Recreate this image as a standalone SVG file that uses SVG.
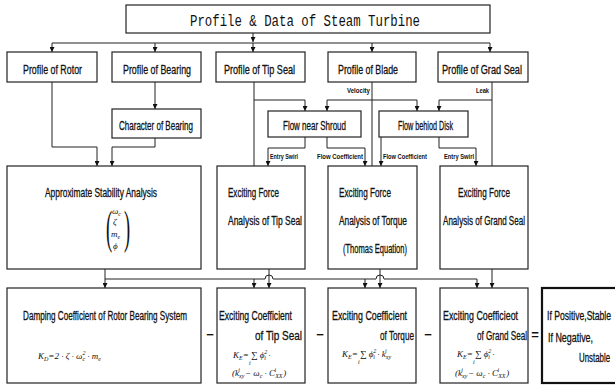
<svg xmlns="http://www.w3.org/2000/svg" width="615" height="386" viewBox="0 0 615 386">
<defs>
<marker id="ah" viewBox="0 0 8 8" refX="8" refY="4" markerWidth="5" markerHeight="5" orient="auto" markerUnits="userSpaceOnUse"><path d="M0,0 L8,4 L0,8 z" fill="#111"/></marker>
<style>
.box{fill:#fff;stroke:#222;stroke-width:1.2}
.thick{fill:#fff;stroke:#111;stroke-width:2.2}
.t{font-family:"Liberation Sans",Arial,sans-serif;font-size:12.5px;fill:#111;stroke:#111;stroke-width:0.3}
.mono{font-family:"Liberation Mono","Courier New",monospace;font-size:16px;fill:#111}
.s{font-family:"Liberation Sans",Arial,sans-serif;font-size:7px;font-weight:bold;fill:#111}
.f{font-family:"Liberation Serif","Times New Roman",serif;font-size:9px;font-style:italic;fill:#111}
.fs{font-size:6px}
.p{font-family:"Liberation Serif","Times New Roman",serif;font-size:46px;fill:#111}
.c{fill:none;stroke:#222;stroke-width:1}
.a{marker-end:url(#ah)}
.op{font-family:"Liberation Sans",Arial,sans-serif;font-size:13px;font-weight:bold;fill:#111}
</style>
</defs>
<rect width="615" height="386" fill="#fff"/>

<g id="connectors">
<path class="c a" d="M253,33 V42"/>
<path class="c" d="M52,43 H490"/>
<path class="c a" d="M52,43 V52"/>
<path class="c a" d="M155,43 V52"/>
<path class="c a" d="M253,43 V52"/>
<path class="c a" d="M372,43 V52"/>
<path class="c a" d="M490,43 V52"/>
<path class="c a" d="M155,82 V109"/>
<path class="c a" d="M52,82 V147 H97 V166"/>
<path class="c a" d="M155,138 V147 H112 V166"/>
<path class="c" d="M254,82 V166"/>
<path class="c a" d="M254,100 H305 V111"/>
<path class="c" d="M372,82 V166"/>
<path class="c a" d="M372,100 H327 V111"/>
<path class="c a" d="M372,100 H417 V111"/>
<path class="c" d="M492,82 V166"/>
<path class="c a" d="M492,100 H439 V111"/>
<path class="c a" d="M305,137 V148 H268 V166"/>
<path class="c a" d="M327,137 V148 H365 V166"/>
<path class="c a" d="M381,137 V166"/>
<path class="c a" d="M439,137 V148 H476 V166"/>
<path class="c a" d="M105,269 V279 H265 A4,4 0 0 1 273,279 H376 A4,4 0 0 1 384,279 H477 V288"/>
<path class="c a" d="M105,279 V288"/>
<path class="c a" d="M254,279 V288"/>
<path class="c a" d="M365,279 V288"/>
<path class="c a" d="M269,269 V288"/>
<path class="c a" d="M380,269 V288"/>
<path class="c a" d="M492,269 V288"/>
<text class="s" x="347" y="93" textLength="23" lengthAdjust="spacingAndGlyphs">Velocity</text>
<text class="s" x="476" y="93" textLength="13" lengthAdjust="spacingAndGlyphs">Leak</text>
<text class="s" x="270" y="159" textLength="28" lengthAdjust="spacingAndGlyphs">Entry Swirl</text>
<text class="s" x="317" y="159" textLength="46" lengthAdjust="spacingAndGlyphs">Flow Coefficient</text>
<text class="s" x="383" y="159" textLength="44" lengthAdjust="spacingAndGlyphs">Flow Coefficient</text>
<text class="s" x="444" y="159" textLength="30" lengthAdjust="spacingAndGlyphs">Entry Swirl</text>
</g>

<g id="title">
<rect class="box" x="126" y="5" width="364" height="28"/>
<text class="mono" x="190" y="26" textLength="230" lengthAdjust="spacingAndGlyphs">Profile &amp; Data of Steam Turbine</text>
</g>

<g id="profile-rotor">
<rect class="box" x="7" y="52" width="90" height="30"/>
<text class="t" x="23" y="74" textLength="59" lengthAdjust="spacingAndGlyphs">Profile of Rotor</text>
</g>
<g id="profile-bearing">
<rect class="box" x="112" y="52" width="89" height="30"/>
<text class="t" x="123" y="74" textLength="68" lengthAdjust="spacingAndGlyphs">Profile of Bearing</text>
</g>
<g id="profile-tip-seal">
<rect class="box" x="216" y="52" width="89" height="30"/>
<text class="t" x="224" y="74" textLength="71" lengthAdjust="spacingAndGlyphs">Profile of Tip Seal</text>
</g>
<g id="profile-blade">
<rect class="box" x="328" y="52" width="88" height="30"/>
<text class="t" x="338" y="74" textLength="60" lengthAdjust="spacingAndGlyphs">Profile of Blade</text>
</g>
<g id="profile-grad-seal">
<rect class="box" x="438" y="52" width="90" height="30"/>
<text class="t" x="442" y="74" textLength="80" lengthAdjust="spacingAndGlyphs">Profile of Grad Seal</text>
</g>

<g id="character-bearing">
<rect class="box" x="112" y="109" width="89" height="29"/>
<text class="t" x="119" y="130" textLength="74" lengthAdjust="spacingAndGlyphs">Character of Bearing</text>
</g>
<g id="flow-shroud">
<rect class="box" x="268" y="111" width="93" height="26"/>
<text class="t" x="283" y="130" textLength="63" lengthAdjust="spacingAndGlyphs">Flow near Shroud</text>
</g>
<g id="flow-disk">
<rect class="box" x="379" y="111" width="89" height="26"/>
<text class="t" x="398" y="130" textLength="55" lengthAdjust="spacingAndGlyphs">Flow behiod Disk</text>
</g>

<g id="stability-analysis">
<rect class="box" x="7" y="166" width="194" height="103"/>
<text class="t" x="45" y="197" textLength="112" lengthAdjust="spacingAndGlyphs">Approximate Stability Analysis</text>
<text class="p" x="0" y="0" transform="translate(106,243) scale(0.4,1)">(</text>
<text class="p" x="0" y="0" transform="translate(124,243) scale(0.4,1)">)</text>
<text class="f" x="112" y="214">ω<tspan class="fs" dy="2">c</tspan></text>
<text class="f" x="113" y="225">ζ</text>
<text class="f" x="111" y="237">m<tspan class="fs" dy="2">e</tspan></text>
<text class="f" x="113" y="249">ϕ</text>
</g>
<g id="force-tip-seal">
<rect class="box" x="217" y="166" width="88" height="103"/>
<text class="t" x="228" y="197" textLength="51" lengthAdjust="spacingAndGlyphs">Exciting Force</text>
<text class="t" x="228" y="225" textLength="74" lengthAdjust="spacingAndGlyphs">Analysis of Tip Seal</text>
</g>
<g id="force-torque">
<rect class="box" x="328" y="166" width="89" height="103"/>
<text class="t" x="339" y="197" textLength="52" lengthAdjust="spacingAndGlyphs">Exciting Force</text>
<text class="t" x="339" y="225" textLength="68" lengthAdjust="spacingAndGlyphs">Analysis of Torque</text>
<text class="t" x="343" y="253" textLength="64" lengthAdjust="spacingAndGlyphs">(Thomas Equation)</text>
</g>
<g id="force-grand-seal">
<rect class="box" x="440" y="166" width="88" height="103"/>
<text class="t" x="458" y="197" textLength="52" lengthAdjust="spacingAndGlyphs">Exciting Force</text>
<text class="t" x="443" y="225" textLength="82" lengthAdjust="spacingAndGlyphs">Analysis of Grand Seal</text>
</g>

<g id="damping-coefficient">
<rect class="box" x="7" y="288" width="194" height="95"/>
<text class="t" x="23" y="320" textLength="164" lengthAdjust="spacingAndGlyphs">Damping Coefficient of Rotor Bearing System</text>
<text class="f" x="38" y="359">K<tspan class="fs" dy="2">D</tspan><tspan dy="-2">=2 · ζ · ω</tspan><tspan class="fs" dy="-4">2</tspan><tspan class="fs" dx="-3" dy="6">c</tspan><tspan dy="-2"> · m</tspan><tspan class="fs" dy="2">e</tspan></text>
</g>
<g id="coef-tip-seal">
<rect class="box" x="217" y="288" width="88" height="95"/>
<text class="t" x="219" y="320" textLength="73" lengthAdjust="spacingAndGlyphs">Exciting Coefficient</text>
<text class="t" x="255" y="340" textLength="47" lengthAdjust="spacingAndGlyphs">of Tip Seal</text>
<text class="f" x="233" y="358">K<tspan class="fs" dy="2">E</tspan><tspan dy="-2">= ∑ ϕ</tspan><tspan class="fs" dy="-4">2</tspan><tspan class="fs" dx="-3" dy="6">i</tspan><tspan dy="-2"> ·</tspan></text>
<text class="f fs" x="249" y="365">i</text>
<text class="f" x="232" y="376">(k<tspan class="fs" dy="2">xy</tspan><tspan class="fs" dx="-6" dy="-6">i</tspan><tspan dx="5" dy="4">− ω</tspan><tspan class="fs" dy="2">c</tspan><tspan dy="-2"> · C</tspan><tspan class="fs" dy="2">XX</tspan><tspan class="fs" dx="-8" dy="-6">i</tspan><tspan dx="7" dy="4">)</tspan></text>
</g>
<g id="coef-torque">
<rect class="box" x="328" y="288" width="88" height="95"/>
<text class="t" x="332" y="320" textLength="75" lengthAdjust="spacingAndGlyphs">Exciting Coefficient</text>
<text class="t" x="380" y="340" textLength="34" lengthAdjust="spacingAndGlyphs">of Torque</text>
<text class="f" x="342" y="357">K<tspan class="fs" dy="2">E</tspan><tspan dy="-2">= ∑ ϕ</tspan><tspan class="fs" dy="-4">2</tspan><tspan class="fs" dx="-3" dy="6">i</tspan><tspan dy="-2"> · k</tspan><tspan class="fs" dy="2">xy</tspan><tspan class="fs" dx="-6" dy="-6">i</tspan></text>
<text class="f fs" x="358" y="364">i</text>
</g>
<g id="coef-grand-seal">
<rect class="box" x="440" y="288" width="88" height="95"/>
<text class="t" x="443" y="320" textLength="75" lengthAdjust="spacingAndGlyphs">Exciting Coefficieot</text>
<text class="t" x="477" y="340" textLength="50" lengthAdjust="spacingAndGlyphs">of Grand Seal</text>
<text class="f" x="457" y="357">K<tspan class="fs" dy="2">E</tspan><tspan dy="-2">= ∑ ϕ</tspan><tspan class="fs" dy="-4">2</tspan><tspan class="fs" dx="-3" dy="6">i</tspan><tspan dy="-2"> ·</tspan></text>
<text class="f fs" x="473" y="364">i</text>
<text class="f" x="455" y="376">(k<tspan class="fs" dy="2">xy</tspan><tspan class="fs" dx="-6" dy="-6">i</tspan><tspan dx="5" dy="4">− ω</tspan><tspan class="fs" dy="2">c</tspan><tspan dy="-2"> · C</tspan><tspan class="fs" dy="2">XX</tspan><tspan class="fs" dx="-8" dy="-6">i</tspan><tspan dx="7" dy="4">)</tspan></text>
</g>
<g id="result">
<rect class="thick" x="542" y="288" width="80" height="95"/>
<text class="t" x="547" y="320" textLength="64" lengthAdjust="spacingAndGlyphs">If Positive,Stable</text>
<text class="t" x="548" y="342" textLength="45" lengthAdjust="spacingAndGlyphs">If Negative,</text>
<text class="t" x="579" y="362" textLength="31" lengthAdjust="spacingAndGlyphs">Unstable</text>
</g>
<g id="operators">
<text class="op" x="210" y="339" text-anchor="middle">−</text>
<text class="op" x="320" y="339" text-anchor="middle">−</text>
<text class="op" x="428" y="339" text-anchor="middle">−</text>
<text class="op" x="535" y="339" text-anchor="middle">=</text>
</g>
</svg>
